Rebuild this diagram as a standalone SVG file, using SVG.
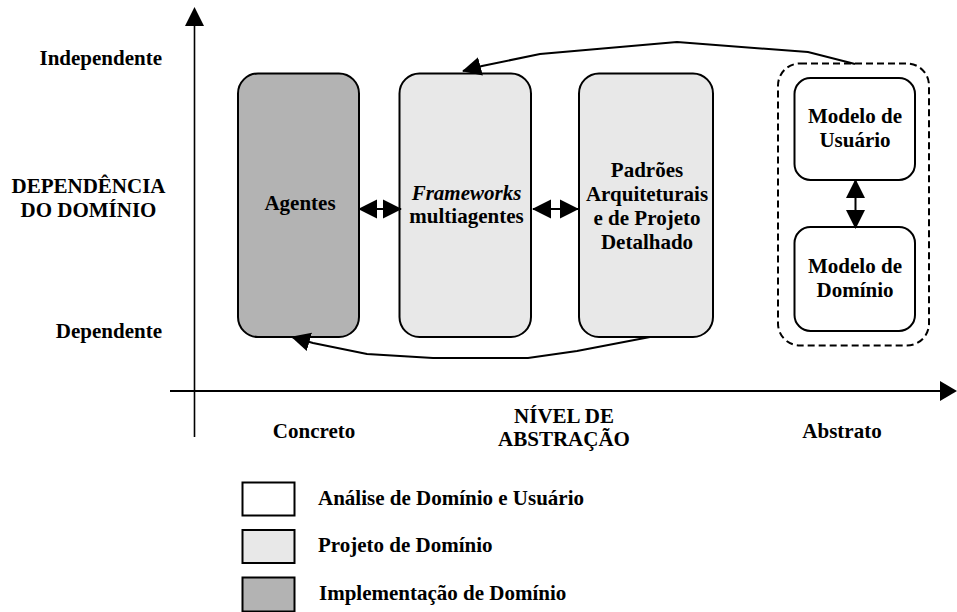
<svg xmlns="http://www.w3.org/2000/svg" width="957" height="612" viewBox="0 0 957 612">
<style>
text{font-family:"Liberation Serif","Times New Roman",serif;font-weight:bold;font-size:21px;fill:#000}
.c{text-anchor:middle}
.e{text-anchor:end}
.box{stroke:#000;stroke-width:2}
.impl{fill:#b3b3b3}
.proj{fill:#e8e8e8}
.anal{fill:#fff}
.ln{fill:none;stroke:#000;stroke-width:2}
</style>
<defs>
<marker id="ah" viewBox="0 0 20 20" refX="19" refY="10" markerWidth="19" markerHeight="20" markerUnits="userSpaceOnUse" orient="auto-start-reverse">
<path d="M0,0 L20,10 L0,20 z" fill="#000"/>
</marker>
</defs>
<rect width="957" height="612" fill="#fff"/>

<g id="axes">
<line x1="194.5" y1="437" x2="194.5" y2="24" stroke="#000" stroke-width="1.6"/>
<polygon points="194.5,7 185,26 204,26" fill="#000"/>
<line x1="170" y1="391" x2="941" y2="391" stroke="#000" stroke-width="2"/>
<polygon points="957,391 940,381 940,401" fill="#000"/>
</g>

<g id="axis-labels">
<text class="e" x="162" y="65">Independente</text>
<text class="c" x="88.5" y="193">DEPENDÊNCIA</text>
<text class="c" x="88.5" y="217">DO DOMÍNIO</text>
<text class="e" x="162" y="338">Dependente</text>
<text class="c" x="314" y="438">Concreto</text>
<text class="c" x="564" y="423">NÍVEL DE</text>
<text class="c" x="564" y="446">ABSTRAÇÃO</text>
<text class="c" x="842" y="438">Abstrato</text>
</g>

<g id="agentes">
<rect class="box impl" x="238" y="73.5" width="121" height="263.5" rx="20"/>
<text class="c" x="300" y="210">Agentes</text>
</g>

<g id="frameworks">
<rect class="box proj" x="399.5" y="73.5" width="131.5" height="263.5" rx="20"/>
<text class="c" x="466.5" y="200" font-style="italic">Frameworks</text>
<text class="c" x="466.5" y="223">multiagentes</text>
</g>

<g id="padroes">
<rect class="box proj" x="579" y="73.5" width="134" height="263.5" rx="20"/>
<text class="c" x="647" y="177">Padrões</text>
<text class="c" x="647" y="201">Arquiteturais</text>
<text class="c" x="647" y="225">e de Projeto</text>
<text class="c" x="647" y="249">Detalhado</text>
</g>

<g id="grupo-modelos">
<rect x="778" y="63.5" width="151" height="282" rx="22" fill="none" stroke="#000" stroke-width="2" stroke-dasharray="7,4"/>
</g>

<g id="modelo-usuario">
<rect class="box anal" x="794.5" y="78" width="120.5" height="102" rx="16"/>
<text class="c" x="855" y="123">Modelo de</text>
<text class="c" x="855" y="147">Usuário</text>
</g>

<g id="modelo-dominio">
<rect class="box anal" x="794.5" y="227" width="120.5" height="104" rx="16"/>
<text class="c" x="855" y="273">Modelo de</text>
<text class="c" x="855" y="297">Domínio</text>
</g>

<g id="connectors">
<line class="ln" x1="359" y1="209" x2="401" y2="209" marker-start="url(#ah)" marker-end="url(#ah)"/>
<line class="ln" x1="533" y1="209" x2="578" y2="209" marker-start="url(#ah)" marker-end="url(#ah)"/>
<line class="ln" x1="855.5" y1="180" x2="855.5" y2="228" marker-start="url(#ah)" marker-end="url(#ah)"/>
<polyline class="ln" points="855,64 808,52 677,42 540,54 482,66 463,71" marker-end="url(#ah)"/>
<polyline class="ln" points="650,337 577,351 528,358 433,358 367,354 313,343 292,337" marker-end="url(#ah)"/>
</g>

<g id="legend">
<rect class="anal" x="242.5" y="482.5" width="52" height="33" stroke="#000" stroke-width="2"/>
<text x="318" y="505">Análise de Domínio e Usuário</text>
<rect class="proj" x="242.5" y="530" width="52" height="33" stroke="#000" stroke-width="2"/>
<text x="318" y="552">Projeto de Domínio</text>
<rect class="impl" x="242.5" y="577.5" width="52" height="34" stroke="#000" stroke-width="2"/>
<text x="319" y="600">Implementação de Domínio</text>
</g>
</svg>
